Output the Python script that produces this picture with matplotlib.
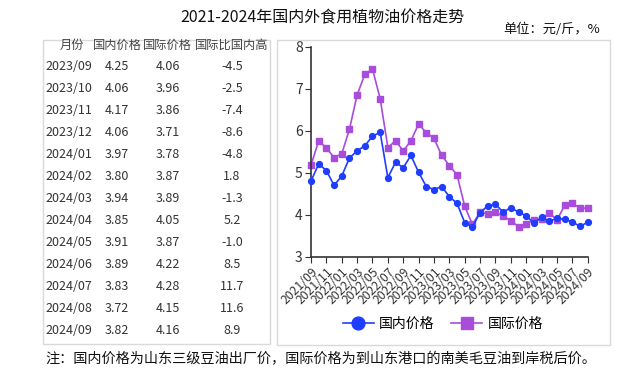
import matplotlib.pyplot as plt
from matplotlib.patches import Rectangle

plt.rcParams['font.family'] = ['Noto Sans CJK SC', 'DejaVu Sans']

# monthly series 2021/09 .. 2024/09
months = [f"{y}/{m:02d}" for y in range(2021, 2025) for m in range(1, 13)
          if (y, m) >= (2021, 9) and (y, m) <= (2024, 9)]
domestic = [4.80, 5.21, 5.05, 4.70, 4.92, 5.35, 5.52, 5.64, 5.87, 5.96,
            4.88, 5.25, 5.12, 5.41, 5.01, 4.67, 4.60, 4.67, 4.43, 4.27,
            3.81, 3.71, 4.05, 4.21, 4.25, 4.06, 4.17, 4.06, 3.97, 3.80,
            3.94, 3.85, 3.91, 3.89, 3.83, 3.72, 3.82]
international = [5.18, 5.76, 5.59, 5.36, 5.45, 6.03, 6.85, 7.34, 7.47, 6.76,
                 5.60, 5.76, 5.52, 5.76, 6.16, 5.95, 5.82, 5.41, 5.17, 4.95,
                 4.20, 3.77, 4.06, 4.02, 4.06, 3.96, 3.86, 3.71, 3.78, 3.87,
                 3.89, 4.05, 3.87, 4.22, 4.28, 4.15, 4.16]

# table on the left
table_header = ["月份", "国内价格", "国际价格", "国际比国内高"]
table_months = ["2023/09", "2023/10", "2023/11", "2023/12", "2024/01", "2024/02",
                "2024/03", "2024/04", "2024/05", "2024/06", "2024/07", "2024/08", "2024/09"]
table_dom = ["4.25", "4.06", "4.17", "4.06", "3.97", "3.80", "3.94",
             "3.85", "3.91", "3.89", "3.83", "3.72", "3.82"]
table_int = ["4.06", "3.96", "3.86", "3.71", "3.78", "3.87", "3.89",
             "4.05", "3.87", "4.22", "4.28", "4.15", "4.16"]
table_diff = ["-4.5", "-2.5", "-7.4", "-8.6", "-4.8", "1.8", "-1.3",
              "5.2", "-1.0", "8.5", "11.7", "11.6", "8.9"]

W, H = 644, 368
fig = plt.figure(figsize=(W / 100, H / 100), dpi=100)


def fx(px):
    return px / W


def fy(py):
    return 1 - py / H


# title and unit
fig.text(fx(322), fy(18), "2021-2024年国内外食用植物油价格走势", ha='center', va='center',
         fontsize=11.5, color='#111111')
fig.text(fx(552), fy(29), "单位：元/斤，%", ha='center', va='center', fontsize=9.5, color='#111111')

# boxes
border = '#d9d9d9'
fig.add_artist(Rectangle((fx(43), fy(344)), fx(270) - fx(43), fy(40) - fy(344),
                         transform=fig.transFigure, fill=False, edgecolor=border, lw=1))
fig.add_artist(Rectangle((fx(277), fy(345)), fx(610) - fx(277), fy(40) - fy(345),
                         transform=fig.transFigure, fill=False, edgecolor=border, lw=1))

# table text
hdr_x = [72, 117, 167, 232]
fs_tab = 9
for x, t in zip(hdr_x, table_header):
    fig.text(fx(x), fy(45), t, ha='center', va='center', fontsize=8.8, color='#444444')
row_y0, row_dy = 67, 21.95
for i in range(len(table_months)):
    y = fy(row_y0 + i * row_dy)
    fig.text(fx(45), y, table_months[i], ha='left', va='center', fontsize=fs_tab, color='#333333')
    fig.text(fx(117), y, table_dom[i], ha='center', va='center', fontsize=fs_tab, color='#333333')
    fig.text(fx(168), y, table_int[i], ha='center', va='center', fontsize=fs_tab, color='#333333')
    fig.text(fx(232), y, table_diff[i], ha='center', va='center', fontsize=fs_tab, color='#333333')

# line chart
ax = fig.add_axes([fx(311), fy(256.7), fx(587.7) - fx(311), fy(46.7) - fy(256.7)])
x = list(range(len(months)))
blue = '#1f3dff'
purple = '#a84cdc'
ax.plot(x, domestic, color=blue, lw=1.2, marker='o', ms=4.2, label='国内价格', zorder=3)
ax.plot(x, international, color=purple, lw=1.2, marker='s', ms=4.2, label='国际价格', zorder=2)
ax.set_xlim(0, len(months) - 1)
ax.set_ylim(3, 8)
ax.set_yticks([3, 4, 5, 6, 7, 8])
ax.set_xticks(x[::2])
ax.set_xticklabels(months[::2], rotation=45, ha='right', va='top', rotation_mode='anchor',
                   fontsize=8.8, color='#333333')
ax.tick_params(axis='y', labelsize=10, labelcolor='#333333', color='#333333', length=4, pad=2)
ax.tick_params(axis='x', color='#333333', length=4, pad=2)
for s in ['top', 'right']:
    ax.spines[s].set_visible(False)
for s in ['left', 'bottom']:
    ax.spines[s].set_color('#333333')
    ax.spines[s].set_linewidth(1.2)
ax.patch.set_alpha(0)
for ln in ax.lines:
    ln.set_clip_on(False)

fig.legend(loc='center', bbox_to_anchor=(fx(443), fy(324)), ncol=2, frameon=False,
           fontsize=10, markerscale=2.2, handlelength=2.2, columnspacing=1.2, handletextpad=0.4)

# footnote
fig.text(fx(45), fy(359), "注：国内价格为山东三级豆油出厂价，国际价格为到山东港口的南美毛豆油到岸税后价。",
         ha='left', va='center', fontsize=10.2, color='#111111')

fig.savefig('out.png', dpi=100)
